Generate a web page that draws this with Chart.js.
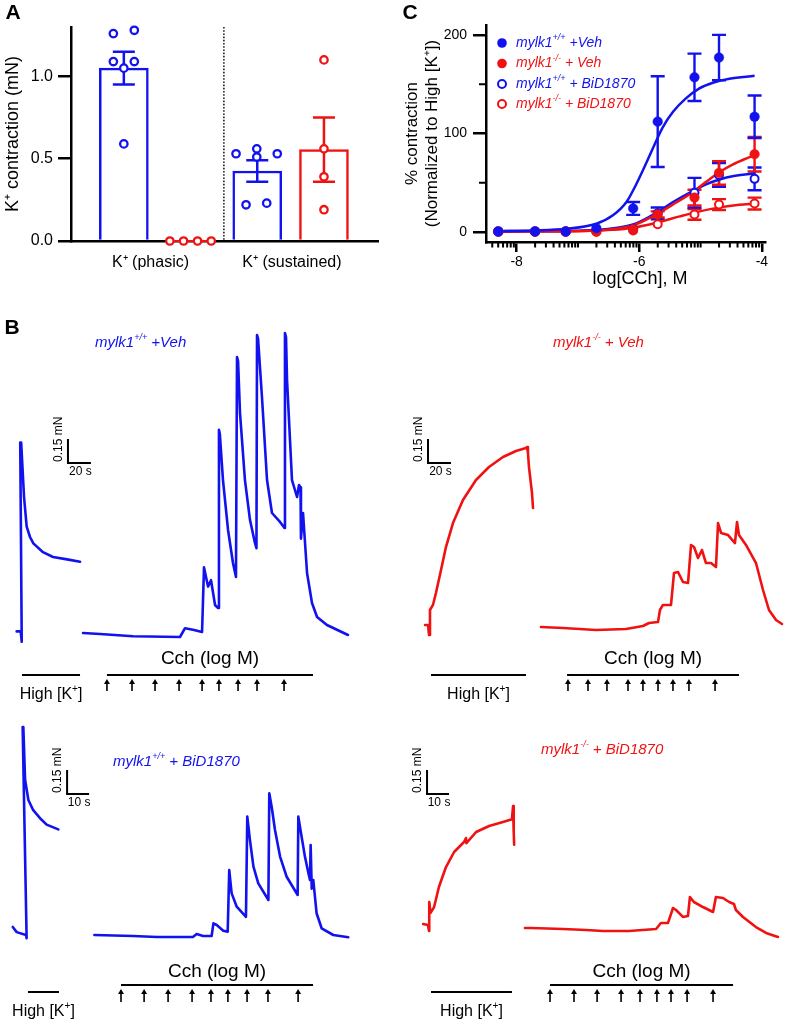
<!DOCTYPE html>
<html>
<head>
<meta charset="utf-8">
<title>mylk1 contraction figure</title>
<script src="https://cdn.jsdelivr.net/npm/chart.js@4.4.1/dist/chart.umd.min.js"></script>
<style>
  html, body { margin: 0; padding: 0; background: #fff; }
  #fig { position: relative; width: 796px; height: 1024px; overflow: hidden; }
  #fig canvas { position: absolute; }
</style>
</head>
<body>
<div id="fig">
  <canvas id="panelA" width="398" height="290" style="left:0;top:0"></canvas>
  <canvas id="panelC" width="398" height="290" style="left:398px;top:0"></canvas>
  <canvas id="traceTL" width="398" height="420" style="left:0;top:290px"></canvas>
  <canvas id="traceTR" width="398" height="420" style="left:398px;top:290px"></canvas>
  <canvas id="traceBL" width="398" height="319" style="left:0;top:705px"></canvas>
  <canvas id="traceBR" width="398" height="319" style="left:398px;top:705px"></canvas>
</div>
<script>
// ---------- panel A: K+ contraction (mN) ----------
var aGroups = ['K⁺ (phasic)', 'K⁺ (sustained)'];
var aWtMean = [1.05, 0.425];
var aWtSem = [0.10, 0.065];
var aKoMean = [0.0, 0.555];
var aKoSem = [0.0, 0.195];
var aWtPhasic = [1.26, 1.28, 1.09, 1.09, 1.05, 0.59];
var aKoPhasic = [0, 0, 0, 0];
var aWtSustained = [0.53, 0.56, 0.51, 0.53, 0.22, 0.23];
var aKoSustained = [1.10, 0.56, 0.39, 0.19];
var aYTicks = [0, 0.5, 1.0];

// ---------- panel C: CCh concentration-response ----------
var cLogConc = [-8.3, -7.7, -7.2, -6.7, -6.1, -5.7, -5.1, -4.7, -4.12];
var cWtVeh = [0.5, 0.5, 0.5, 4, 24, 112, 157, 177, 117];
var cWtVehSem = [0, 0, 0, 1.5, 6.5, 46, 24, 23, 21.5];
var cKoVeh = [0.5, 0.5, 0.5, 0.5, 3, 18, 35, 60, 79];
var cKoVehSem = [0, 0, 0, 0.5, 1, 3, 8, 12, 17.5];
var cWtBid = [1, 1, 1, 1.5, 3.5, 19, 40, 58, 54];
var cWtBidSem = [0, 0, 0, 0.5, 1, 6, 15, 12, 11.5];
var cKoBid = [0.5, 0.5, 0.5, 0.5, 1.7, 8, 18, 28, 29];
var cKoBidSem = [0, 0, 0, 0, 0.5, 1.5, 5.5, 5.5, 6];
// fitted curves
var cFitWtVeh = [[-8.35, 1.0], [-7.7, 1.7], [-7.19, 3.4], [-6.7, 8.5], [-6.43, 17], [-6.21, 30.5], [-6.05, 48.5], [-5.89, 69.5], [-5.78, 84.8], [-5.62, 106], [-5.45, 122], [-5.24, 135.6], [-5.02, 145.8], [-4.8, 151.5], [-4.53, 155.5], [-4.12, 158.5]];
var cFitKoVeh = [[-8.35, 1.0], [-7.5, 1.1], [-6.7, 1.7], [-6.1, 6.8], [-5.72, 18], [-5.45, 28], [-5.13, 40.5], [-4.91, 51], [-4.69, 61], [-4.48, 68.5], [-4.26, 74.6], [-4.12, 78]];
var cFitWtBid = [[-8.35, 1.0], [-7.5, 1.2], [-6.7, 2.2], [-6.1, 7.8], [-5.72, 19.7], [-5.45, 30.5], [-5.13, 41.7], [-4.91, 48.5], [-4.69, 53.3], [-4.48, 56.6], [-4.12, 59.4]];
var cFitKoBid = [[-8.35, 0.5], [-7.5, 0.6], [-6.43, 2.4], [-6.1, 4.5], [-5.72, 9.5], [-5.34, 16], [-5.07, 20.3], [-4.69, 25.1], [-4.37, 27.8], [-4.12, 28.9]];
var cXTicks = [-8, -6, -4];
var cYTicks = [0, 100, 200];
var cYMinorTicks = [50, 150];

// ---------- panel B: force traces, [time s, force mN] ----------
var tlKTrace = [[14.5, 0.01], [18.0, 0.01], [18.9, -0.055], [17.6, 1.19], [18.4, 1.19], [20.9, 0.85], [23.2, 0.665], [26.1, 0.6], [29.0, 0.56], [37.4, 0.505], [46.1, 0.475], [58.3, 0.46], [69.6, 0.445]];
var tlCchTrace = [[72.2, 0], [87.0, -0.006], [115.7, -0.02], [156.5, -0.025], [160.9, 0.03], [167.8, 0.02], [175.7, 0.006], [177.4, 0.41], [180.9, 0.29], [183.5, 0.33], [187.0, 0.175], [189.6, 0.156], [190.4, 1.27], [191.2, 1.24], [193.9, 0.956], [198.3, 0.644], [202.6, 0.4375], [205.2, 0.35], [206.1, 1.725], [207.0, 1.70], [208.7, 1.375], [213.0, 0.956], [217.4, 0.706], [221.7, 0.5625], [223.0, 0.53], [223.5, 1.8625], [224.4, 1.84], [227.8, 1.475], [232.2, 0.956], [236.5, 0.75], [243.5, 0.694], [247.4, 0.656], [247.8, 1.875], [248.7, 1.85], [249.6, 1.58], [253.9, 0.956], [258.3, 0.85], [260.0, 0.925], [261.3, 0.91], [261.7, 0.59], [263.5, 0.75], [267.0, 0.375], [271.3, 0.1875], [275.7, 0.1], [284.3, 0.05], [302.6, -0.0125]];
var tlArrows = [93.0, 114.8, 134.8, 155.7, 175.7, 190.4, 207.0, 223.5, 247.0];
var tlKWindow = [19.1, 69.6];
var tlCchWindow = [93.0, 272.2];

var trKTrace = [[23.5, 0.019], [26.1, 0.019], [27.0, -0.044], [27.8, 0.1125], [30.4, 0.144], [33.0, 0.219], [37.4, 0.3625], [41.7, 0.506], [47.8, 0.656], [56.5, 0.8], [67.8, 0.925], [79.1, 1.006], [91.3, 1.069], [102.6, 1.106], [111.3, 1.125], [112.2, 1.131], [113.0, 1.094], [113.9, 1.006], [116.5, 0.844], [117.4, 0.75]];
var trCchTrace = [[124.3, 0.006], [143.5, 0], [172.2, -0.0125], [198.3, -0.006], [213.0, 0.0125], [218.3, 0.031], [226.1, 0.0375], [227.8, 0.1125], [230.4, 0.144], [237.4, 0.144], [240.0, 0.344], [243.5, 0.35], [247.8, 0.2875], [252.2, 0.281], [254.8, 0.519], [257.4, 0.506], [260.9, 0.4375], [264.3, 0.4875], [267.8, 0.406], [272.2, 0.406], [276.5, 0.381], [278.3, 0.656], [280.9, 0.594], [287.0, 0.581], [293.0, 0.531], [294.8, 0.6625], [296.5, 0.581], [302.6, 0.519], [311.3, 0.406], [317.4, 0.2375], [322.6, 0.1125], [328.7, 0.05], [333.9, 0.025]];
var trArrows = [147.8, 165.2, 181.7, 200.0, 213.0, 226.1, 239.1, 253.0, 275.7];
var trKWindow = [28.7, 111.3];
var trCchWindow = [147.0, 296.5];

var blKTrace = [[5.8, 0.05], [7.6, 0.018], [11.8, 0.0], [12.1, -0.02], [10.3, 1.3], [10.6, 1.3], [11.4, 0.97], [12.9, 0.844], [15.1, 0.78], [18.2, 0.73], [21.2, 0.69], [26.5, 0.66]];
var blCchTrace = [[42.9, 0], [60.5, -0.006], [71.4, -0.0125], [87.7, -0.0125], [89.4, 0.006], [92.3, -0.006], [96.2, -0.006], [97.0, 0.073], [98.5, 0.0625], [101.5, 0.027], [103.5, 0.021], [104.2, 0.406], [105.3, 0.26], [107.6, 0.177], [111.8, 0.114], [112.4, 0.74], [113.6, 0.594], [115.2, 0.427], [117.4, 0.323], [122.0, 0.219], [122.4, 0.886], [123.5, 0.80], [125.0, 0.656], [127.3, 0.49], [130.3, 0.364], [135.3, 0.25], [135.6, 0.74], [137.1, 0.614], [138.6, 0.49], [140.2, 0.386], [140.9, 0.344], [141.2, 0.5625], [141.7, 0.29], [142.4, 0.344], [143.9, 0.136], [146.2, 0.042], [151.5, 0], [158.3, -0.014]];
var blArrows = [55.0, 65.5, 76.4, 87.3, 95.9, 103.6, 112.3, 121.8, 135.5];
var blKWindow = [12.7, 26.8];
var blCchWindow = [55.0, 142.3];

var brKTrace = [[11.4, 0.025], [13.6, 0.019], [14.1, -0.019], [14.2, 0.1625], [14.8, 0.094], [16.4, 0.131], [18.6, 0.256], [21.8, 0.381], [25.5, 0.475], [30.0, 0.5375], [30.9, 0.5625], [31.1, 0.53], [35.5, 0.6], [41.4, 0.6375], [47.7, 0.6625], [51.8, 0.68], [52.3, 0.7625], [52.6, 0.6], [52.8, 0.52]];
var brCchTrace = [[57.7, 0], [60.5, 0], [75.0, -0.006], [85.5, -0.0125], [93.2, -0.019], [105.0, -0.019], [117.3, -0.006], [119.5, 0.031], [122.7, 0.031], [125.0, 0.125], [126.4, 0.1125], [129.5, 0.069], [131.8, 0.075], [132.7, 0.194], [134.5, 0.1625], [138.6, 0.131], [143.2, 0.1], [144.5, 0.194], [147.7, 0.1875], [150.5, 0.1625], [152.7, 0.15], [153.6, 0.1125], [156.8, 0.069], [162.7, 0.006], [167.3, -0.031], [172.7, -0.056]];
var brArrows = [69.1, 80.0, 90.5, 101.4, 110.0, 117.7, 124.1, 131.4, 143.2];
var brKWindow = [15.0, 51.8];
var brCchWindow = [69.1, 152.3];

// ---------- look ----------
var BLUE = '#1212ee';
var RED = '#f01212';
var FONT = '"Liberation Sans", Arial, Helvetica, sans-serif';

Chart.defaults.font.family = FONT;
Chart.defaults.color = '#000';
Chart.defaults.animation = false;
Chart.defaults.plugins.legend.display = false;
Chart.defaults.plugins.tooltip.enabled = false;

var seriesNames = [
  [['mylk1', 0], ['+/+', 1], [' +Veh', 0]],
  [['mylk1', 0], ['-/-', 1], [' + Veh', 0]],
  [['mylk1', 0], ['+/+', 1], [' + BiD1870', 0]],
  [['mylk1', 0], ['-/-', 1], [' + BiD1870', 0]]
];
var highK = [['High [K', 0], ['+', 1], [']', 0]];

function pairs(arr) { return arr.map(function (p) { return { x: p[0], y: p[1] }; }); }
function xy(xs, ys) { return xs.map(function (x, i) { return { x: x, y: ys[i] }; }); }
function jittered(vals, slot, jit) { return vals.map(function (v, i) { return { x: slot + jit[i], y: v }; }); }

// text with superscript pieces: parts = [[text, isSup], ...]
function richText(ctx, parts, x, y, size, opts) {
  opts = opts || {};
  var style = opts.italic ? 'italic ' : '';
  var supSize = Math.round(size * 0.62);
  function fontOf(sup) { return style + (sup ? supSize : size) + 'px ' + FONT; }
  ctx.save();
  ctx.fillStyle = opts.color || '#000';
  ctx.textBaseline = 'middle';
  ctx.textAlign = 'left';
  var w = 0;
  parts.forEach(function (p) { ctx.font = fontOf(p[1]); w += ctx.measureText(p[0]).width; });
  var cx = opts.align === 'center' ? x - w / 2 : x;
  parts.forEach(function (p) {
    ctx.font = fontOf(p[1]);
    ctx.fillText(p[0], cx, p[1] ? y - size * 0.36 : y);
    cx += ctx.measureText(p[0]).width;
  });
  ctx.restore();
}

function panelLetter(ctx, letter, x, y) {
  ctx.save();
  ctx.font = 'bold 21px ' + FONT;
  ctx.fillStyle = '#000';
  ctx.textAlign = 'center';
  ctx.textBaseline = 'middle';
  ctx.fillText(letter, x, y);
  ctx.restore();
}

// ================= panel A =================
var aSlots = [1, 2, 3, 4];          // wt phasic, ko phasic, wt sustained, ko sustained
var aGroupX = [1.4, 3.52];
var aJitWtPhasic = [-0.157, 0.157, -0.157, 0.157, 0, 0];
var aJitKoPhasic = [-0.31, -0.105, 0.105, 0.31];
var aJitWtSustained = [-0.318, -0.007, -0.007, 0.30, -0.168, 0.142];
var aJitKoSustained = [0, 0, 0, 0];

var panelAMarks = {
  id: 'panelAMarks',
  beforeDatasetsDraw: function (chart) {
    var ctx = chart.ctx, a = chart.chartArea;
    var x = chart.scales.x.getPixelForValue((aSlots[1] + aSlots[2]) / 2);
    ctx.save();
    ctx.strokeStyle = '#000';
    ctx.lineWidth = 1.4;
    ctx.setLineDash([1.6, 1.6]);
    ctx.beginPath();
    ctx.moveTo(x, a.top);
    ctx.lineTo(x, a.bottom);
    ctx.stroke();
    ctx.restore();
  },
  afterDatasetDraw: function (chart, args) {
    if (args.meta.type !== 'bar') return;
    var ctx = chart.ctx, xs = chart.scales.x, ys = chart.scales.y;
    var bars = [
      [aSlots[0], aWtMean[0], aWtSem[0], BLUE],
      [aSlots[1], aKoMean[0], aKoSem[0], RED],
      [aSlots[2], aWtMean[1], aWtSem[1], BLUE],
      [aSlots[3], aKoMean[1], aKoSem[1], RED]
    ];
    ctx.save();
    ctx.lineWidth = 2.5;
    bars.forEach(function (b) {
      if (!b[2]) return;
      var x = xs.getPixelForValue(b[0]);
      var y0 = ys.getPixelForValue(b[1] - b[2]);
      var y1 = ys.getPixelForValue(b[1] + b[2]);
      ctx.strokeStyle = b[3];
      ctx.beginPath();
      ctx.moveTo(x, y0); ctx.lineTo(x, y1);
      ctx.moveTo(x - 11, y0); ctx.lineTo(x + 11, y0);
      ctx.moveTo(x - 11, y1); ctx.lineTo(x + 11, y1);
      ctx.stroke();
    });
    ctx.restore();
  },
  afterDraw: function (chart) { panelLetter(chart.ctx, 'A', 13, 13); }
};

function aPoints(vals, slot, jit, color, line) {
  return {
    type: 'scatter', data: jittered(vals, slot, jit),
    pointRadius: 3.7, pointBorderWidth: 2.3, pointBorderColor: color, pointBackgroundColor: '#fff',
    borderColor: color, borderWidth: 2, showLine: !!line, clip: false, order: 0
  };
}

new Chart(document.getElementById('panelA'), {
  type: 'bar',
  data: {
    datasets: [
      aPoints(aWtPhasic, aSlots[0], aJitWtPhasic, BLUE),
      aPoints(aKoPhasic, aSlots[1], aJitKoPhasic, RED, true),
      aPoints(aWtSustained, aSlots[2], aJitWtSustained, BLUE),
      aPoints(aKoSustained, aSlots[3], aJitKoSustained, RED),
      {
        type: 'bar',
        data: [
          { x: aSlots[0], y: aWtMean[0] }, { x: aSlots[1], y: aKoMean[0] },
          { x: aSlots[2], y: aWtMean[1] }, { x: aSlots[3], y: aKoMean[1] }
        ],
        backgroundColor: '#fff', borderColor: [BLUE, RED, BLUE, RED],
        borderWidth: 2.5, barThickness: 49, order: 10
      }
    ]
  },
  options: {
    responsive: false,
    layout: { padding: { top: 27, right: 20, left: 0, bottom: 0 } },
    scales: {
      x: {
        type: 'linear', min: 0.208, max: 4.81, offset: false,
        grid: { display: false, drawTicks: false },
        border: { display: true, color: '#000', width: 2.5 },
        ticks: {
          font: { size: 16 }, padding: 12, maxRotation: 0, autoSkip: false,
          callback: function (v, i) { return aGroups[i]; }
        },
        afterBuildTicks: function (s) { s.ticks = aGroupX.map(function (v) { return { value: v }; }); },
        afterFit: function (s) { s.height = 49; }
      },
      y: {
        min: 0, max: 1.3,
        grid: { display: true, drawOnChartArea: false, drawTicks: true, tickLength: 13, lineWidth: 2.5, color: '#000' },
        border: { display: true, color: '#000', width: 2.5 },
        ticks: { font: { size: 16 }, padding: 5, callback: function (v) { return v.toFixed(1); } },
        afterBuildTicks: function (s) { s.ticks = aYTicks.map(function (v) { return { value: v }; }); },
        title: { display: true, text: 'K⁺ contraction (mN)', font: { size: 18 }, padding: { top: 2, bottom: 0 } },
        afterFit: function (s) { s.width = 71; }
      }
    }
  },
  plugins: [panelAMarks]
});

// ================= panel C =================
var cSeries = [
  { mean: cWtVeh, sem: cWtVehSem, color: BLUE, filled: true },
  { mean: cKoVeh, sem: cKoVehSem, color: RED, filled: true },
  { mean: cWtBid, sem: cWtBidSem, color: BLUE, filled: false },
  { mean: cKoBid, sem: cKoBidSem, color: RED, filled: false }
];
var cLegendRows = [43, 63.5, 84, 104];

function drawMarker(ctx, x, y, s) {
  ctx.save();
  ctx.beginPath();
  if (s.filled) {
    ctx.arc(x, y, 4.8, 0, Math.PI * 2);
    ctx.fillStyle = s.color; ctx.fill();
  } else {
    ctx.arc(x, y, 4, 0, Math.PI * 2);
    ctx.fillStyle = '#fff'; ctx.fill();
    ctx.lineWidth = 2; ctx.strokeStyle = s.color; ctx.stroke();
  }
  ctx.restore();
}

var panelCMarks = {
  id: 'panelCMarks',
  beforeDatasetsDraw: function (chart) {
    var ctx = chart.ctx, xs = chart.scales.x, ys = chart.scales.y;
    ctx.save();
    ctx.lineWidth = 2.4;
    cSeries.slice().reverse().forEach(function (s) {
      ctx.strokeStyle = s.color;
      cLogConc.forEach(function (c, i) {
        if (!s.sem[i] || s.sem[i] < 2) return;
        var x = xs.getPixelForValue(c);
        var y0 = ys.getPixelForValue(s.mean[i] - s.sem[i]);
        var y1 = ys.getPixelForValue(s.mean[i] + s.sem[i]);
        ctx.beginPath();
        ctx.moveTo(x, y0); ctx.lineTo(x, y1);
        ctx.moveTo(x - 7, y0); ctx.lineTo(x + 7, y0);
        ctx.moveTo(x - 7, y1); ctx.lineTo(x + 7, y1);
        ctx.stroke();
      });
    });
    ctx.restore();
  },
  afterDraw: function (chart) {
    var ctx = chart.ctx, a = chart.chartArea, xs = chart.scales.x, ys = chart.scales.y;
    ctx.save();
    ctx.strokeStyle = '#000';
    ctx.lineWidth = 2;
    // minor log ticks on x
    ctx.beginPath();
    for (var d = -9; d <= -4; d++) {
      for (var k = 1; k <= 9; k++) {
        var v = d + Math.log10(k);
        if (v < xs.min || v > xs.max || cXTicks.indexOf(v) >= 0) continue;
        var px = xs.getPixelForValue(v);
        ctx.moveTo(px, a.bottom); ctx.lineTo(px, a.bottom + 5.5);
      }
    }
    // minor ticks on y
    cYMinorTicks.forEach(function (v) {
      var py = ys.getPixelForValue(v);
      ctx.moveTo(a.left - 7, py); ctx.lineTo(a.left, py);
    });
    ctx.stroke();
    ctx.restore();

    // legend
    cSeries.forEach(function (s, i) {
      drawMarker(ctx, 104, cLegendRows[i], s);
      richText(ctx, seriesNames[i], 118, cLegendRows[i], 14, { italic: true, color: s.color });
    });

    // x axis title
    ctx.save();
    ctx.font = '18px ' + FONT;
    ctx.fillStyle = '#000';
    ctx.textAlign = 'center';
    ctx.textBaseline = 'middle';
    ctx.fillText('log[CCh], M', 242, 279);
    ctx.restore();

    panelLetter(ctx, 'C', 12, 13);
  }
};

var cDatasets = cSeries.map(function (s) {
  return {
    data: xy(cLogConc, s.mean), showLine: false, clip: false, order: 0,
    pointRadius: s.filled ? 4.8 : 4, pointBorderWidth: s.filled ? 0.5 : 2,
    pointBackgroundColor: s.filled ? s.color : '#fff', pointBorderColor: s.color
  };
});
[[cFitWtVeh, BLUE], [cFitKoVeh, RED], [cFitWtBid, BLUE], [cFitKoBid, RED]].forEach(function (f) {
  cDatasets.push({
    data: pairs(f[0]), showLine: true, pointRadius: 0, borderColor: f[1], borderWidth: 2.5,
    cubicInterpolationMode: 'monotone', order: 5
  });
});

new Chart(document.getElementById('panelC'), {
  type: 'scatter',
  data: { datasets: cDatasets },
  options: {
    responsive: false,
    layout: { padding: { top: 25, right: 31, left: 0, bottom: 0 } },
    scales: {
      x: {
        type: 'linear', min: -8.5, max: -3.95,
        grid: { display: true, drawOnChartArea: false, drawTicks: true, tickLength: 10, lineWidth: 2.5, color: '#000' },
        border: { display: true, color: '#000', width: 2.5 },
        ticks: { font: { size: 14 }, padding: 2, autoSkip: false, maxRotation: 0, callback: function (v) { return String(v); } },
        afterBuildTicks: function (s) { s.ticks = cXTicks.map(function (v) { return { value: v }; }); },
        afterFit: function (s) { s.height = 48; }
      },
      y: {
        type: 'linear', min: -10, max: 210,
        grid: { display: true, drawOnChartArea: false, drawTicks: true, tickLength: 13, lineWidth: 2.5, color: '#000' },
        border: { display: true, color: '#000', width: 2.5 },
        ticks: { font: { size: 14 }, padding: 6 },
        afterBuildTicks: function (s) { s.ticks = cYTicks.map(function (v) { return { value: v }; }); },
        title: { display: true, text: ['% contraction', '(Normalized to High [K⁺])'], font: { size: 17 }, padding: { top: 4, bottom: 0 } },
        afterFit: function (s) { s.width = 88; }
      }
    }
  },
  plugins: [panelCMarks]
});

// ================= panel B: traces =================
function traceMarks(p) {
  return {
    id: 'traceMarks',
    afterDatasetsDraw: function (chart) {
      var ctx = chart.ctx, xs = chart.scales.x, ys = chart.scales.y;
      ctx.save();
      ctx.strokeStyle = '#000';
      ctx.fillStyle = '#000';
      ctx.lineWidth = 2;
      ctx.lineCap = 'butt';

      // calibration bar
      var sb = p.scaleBar;
      var x0 = xs.getPixelForValue(sb.t), x1 = xs.getPixelForValue(sb.t + sb.dt);
      var y0 = ys.getPixelForValue(sb.f), y1 = ys.getPixelForValue(sb.f + sb.df);
      ctx.beginPath();
      ctx.moveTo(x0, y1); ctx.lineTo(x0, y0); ctx.lineTo(x1, y0);
      ctx.stroke();
      ctx.font = '12px ' + FONT;
      ctx.textAlign = 'center';
      ctx.textBaseline = 'top';
      ctx.fillText(sb.dt + ' s', (x0 + x1) / 2 + 1, y0 + 3);
      ctx.save();
      ctx.translate(x0 - 9, y0 - 1);
      ctx.rotate(-Math.PI / 2);
      ctx.textAlign = 'left';
      ctx.textBaseline = 'middle';
      ctx.fillText(sb.df.toFixed(2) + ' mN', 0, 0);
      ctx.restore();

      // High [K+] application bar
      var k0 = xs.getPixelForValue(p.kWindow[0]), k1 = xs.getPixelForValue(p.kWindow[1]);
      ctx.beginPath();
      ctx.moveTo(k0, p.kBarY); ctx.lineTo(k1, p.kBarY);
      ctx.stroke();
      richText(ctx, highK, (k0 + k1) / 2, p.kTextY, 16, { align: 'center' });

      // CCh bar with addition arrows
      var c0 = xs.getPixelForValue(p.cchWindow[0]), c1 = xs.getPixelForValue(p.cchWindow[1]);
      ctx.beginPath();
      ctx.moveTo(c0, p.cchBarY); ctx.lineTo(c1, p.cchBarY);
      ctx.stroke();
      ctx.font = '19px ' + FONT;
      ctx.textAlign = 'center';
      ctx.textBaseline = 'middle';
      ctx.fillText('Cch (log M)', (c0 + c1) / 2, p.cchTextY);
      ctx.lineWidth = 1.6;
      p.arrows.forEach(function (t) {
        var ax = xs.getPixelForValue(t);
        ctx.beginPath();
        ctx.moveTo(ax, p.arrowBottom); ctx.lineTo(ax, p.arrowTop + 3);
        ctx.stroke();
        ctx.beginPath();
        ctx.moveTo(ax, p.arrowTop);
        ctx.lineTo(ax - 3, p.arrowTop + 5);
        ctx.lineTo(ax + 3, p.arrowTop + 5);
        ctx.closePath();
        ctx.fill();
      });
      ctx.restore();

      richText(ctx, p.title, p.titleX, p.titleY, 15, { italic: true, color: p.color });
      if (p.letter) panelLetter(ctx, p.letter, p.letterX, p.letterY);
    }
  };
}

function tracePanel(id, p) {
  var line = { borderColor: p.color, borderWidth: 2.6, pointRadius: 0, tension: 0, borderJoinStyle: 'round', borderCapStyle: 'round' };
  new Chart(document.getElementById(id), {
    type: 'line',
    data: {
      datasets: [
        Object.assign({ data: pairs(p.kTrace) }, line),
        Object.assign({ data: pairs(p.cchTrace) }, line)
      ]
    },
    options: {
      responsive: false,
      layout: { padding: 0 },
      scales: {
        x: { type: 'linear', display: false, min: 0, max: p.w / p.pxPerSec },
        y: { type: 'linear', display: false, min: -(p.h - p.baseY) / p.pxPerMN, max: p.baseY / p.pxPerMN }
      }
    },
    plugins: [traceMarks(p)]
  });
}

tracePanel('traceTL', {
  w: 398, h: 420, pxPerSec: 1.15, pxPerMN: 160, baseY: 343, color: BLUE,
  kTrace: tlKTrace, cchTrace: tlCchTrace, arrows: tlArrows, kWindow: tlKWindow, cchWindow: tlCchWindow,
  scaleBar: { t: 59.1, f: 1.0625, dt: 20, df: 0.15 },
  kBarY: 385, kTextY: 405, cchBarY: 385, cchTextY: 369, arrowTop: 389, arrowBottom: 401,
  title: seriesNames[0], titleX: 95, titleY: 53, letter: 'B', letterX: 12, letterY: 38
});
tracePanel('traceTR', {
  w: 398, h: 420, pxPerSec: 1.15, pxPerMN: 160, baseY: 338, color: RED,
  kTrace: trKTrace, cchTrace: trCchTrace, arrows: trArrows, kWindow: trKWindow, cchWindow: trCchWindow,
  scaleBar: { t: 26.1, f: 1.031, dt: 20, df: 0.15 },
  kBarY: 385, kTextY: 405, cchBarY: 385, cchTextY: 369, arrowTop: 389, arrowBottom: 401,
  title: seriesNames[1], titleX: 155, titleY: 53
});
tracePanel('traceBL', {
  w: 398, h: 319, pxPerSec: 2.2, pxPerMN: 160, baseY: 230, color: BLUE,
  kTrace: blKTrace, cchTrace: blCchTrace, arrows: blArrows, kWindow: blKWindow, cchWindow: blCchWindow,
  scaleBar: { t: 30.5, f: 0.881, dt: 10, df: 0.15 },
  kBarY: 287, kTextY: 307, cchBarY: 280, cchTextY: 267, arrowTop: 284, arrowBottom: 297,
  title: seriesNames[2], titleX: 113, titleY: 57
});
tracePanel('traceBR', {
  w: 398, h: 319, pxPerSec: 2.2, pxPerMN: 160, baseY: 223, color: RED,
  kTrace: brKTrace, cchTrace: brCchTrace, arrows: brArrows, kWindow: brKWindow, cchWindow: brCchWindow,
  scaleBar: { t: 13.2, f: 0.8375, dt: 10, df: 0.15 },
  kBarY: 287, kTextY: 307, cchBarY: 280, cchTextY: 267, arrowTop: 284, arrowBottom: 297,
  title: seriesNames[3], titleX: 143, titleY: 45
});
</script>
</body>
</html>
